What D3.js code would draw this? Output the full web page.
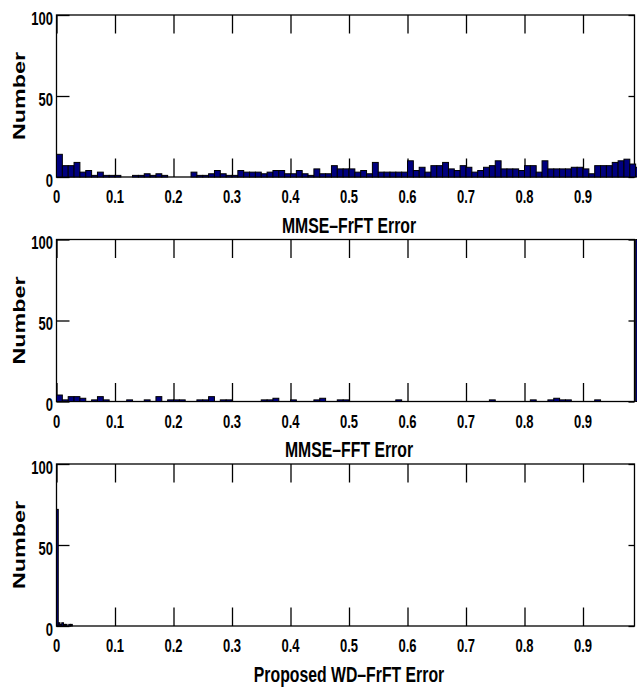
<!DOCTYPE html>
<html lang="en">
<head>
<meta charset="utf-8" />
<title>Error histograms</title>
<script src="https://d3js.org/d3.v7.min.js"></script>
<style>
  body { margin: 0; background: #fff; }
  text { font-family: "Liberation Sans", Arial, sans-serif; font-weight: bold; fill: #000; }
</style>
</head>
<body>
<div id="chart"></div>
<script>
// counts per bin (bins start at 0)
const frftCounts = [
  14, 7, 7, 9, 3, 4, 1, 3, 1, 1,
  1, 0, 0, 1, 1, 2, 1, 2, 1, 0,
  0, 0, 0, 3, 1, 1, 2, 4, 2, 1,
  1, 4, 3, 3, 3, 2, 3, 4, 4, 2,
  2, 4, 2, 1, 5, 2, 2, 7, 5, 5,
  5, 3, 4, 2, 9, 3, 3, 3, 3, 3,
  10, 4, 6, 3, 7, 7, 9, 5, 4, 7,
  6, 3, 4, 6, 7, 10, 5, 5, 5, 4,
  7, 7, 3, 10, 5, 5, 5, 5, 6, 6,
  5, 2, 7, 7, 7, 9, 10, 11, 8, 6
];
const fftCounts = [
  4, 1, 3, 3, 2, 0, 1, 3, 1, 0,
  0, 0, 1, 0, 0, 1, 0, 3, 0, 1,
  1, 1, 0, 0, 1, 1, 3, 0, 1, 1,
  0, 0, 0, 0, 0, 1, 1, 2, 0, 0,
  1, 0, 0, 0, 1, 2, 0, 0, 1, 1,
  0, 0, 0, 0, 0, 0, 0, 0, 1, 0,
  0, 0, 0, 0, 0, 0, 0, 0, 0, 0,
  0, 0, 0, 0, 1, 0, 0, 0, 0, 0,
  0, 1, 0, 0, 1, 2, 1, 1, 0, 0,
  0, 0, 1, 0, 0, 0, 0, 0, 0, 130
];
const wdCounts = [72, 2, 1, 2, 1, 1, 0, 1, 1];

const binWidths = [0.01, 0.01, 0.003];
const panelLabels = ["MMSE\u2013FrFT Error", "MMSE\u2013FFT Error", "Proposed WD\u2013FrFT Error"];
const xTickValues = [0, 0.1, 0.2, 0.3, 0.4, 0.5, 0.6, 0.7, 0.8, 0.9];
const xTickLabels = ["0", "0.1", "0.2", "0.3", "0.4", "0.5", "0.6", "0.7", "0.8", "0.9"];
const yTickValues = [0, 50, 100];
const yLabel = "Number";

// layout
const W = 637, H = 689;
const left = 56.5, top0 = 15, plotH = 162, pitch = 224.5;
const unitW = 585;      // pixels for an error of 1
const xMax = 0.988;     // right edge of the axes box
const stretch = 1.37;   // figure was stretched vertically, text follows

const svg = d3.select("#chart").append("svg")
    .attr("width", W)
    .attr("height", H);

const x = d3.scaleLinear().domain([0, 1]).range([0, unitW]);
const y = d3.scaleLinear().domain([0, 100]).range([plotH, 0]).clamp(true);
const plotW = x(xMax);

const series = [frftCounts, fftCounts, wdCounts];

series.forEach(function (counts, p) {
    const g = svg.append("g")
        .attr("transform", "translate(" + left + "," + (top0 + p * pitch) + ")");

    // frame
    g.append("rect")
        .attr("width", plotW)
        .attr("height", plotH)
        .attr("fill", "none")
        .attr("stroke", "#000")
        .attr("stroke-width", 1.3);

    // inward ticks on all four sides
    const axes = [
        [d3.axisBottom(x).tickValues(xTickValues).tickSize(-18.5), plotH, 0],
        [d3.axisTop(x).tickValues(xTickValues).tickSize(-18.5), 0, 0],
        [d3.axisLeft(y).tickValues(yTickValues).tickSize(-13), 0, 0],
        [d3.axisRight(y).tickValues(yTickValues).tickSize(-6), 0, plotW]
    ];
    axes.forEach(function (a) {
        const ag = g.append("g")
            .attr("transform", "translate(" + a[2] + "," + a[1] + ")")
            .call(a[0].tickFormat(""));
        ag.select(".domain").remove();
        ag.selectAll("line").attr("stroke", "#000").attr("stroke-width", 1.3);
    });

    // bars
    const bw = binWidths[p];
    g.selectAll("rect.bar")
        .data(counts.map(function (c, k) { return { x0: k * bw, x1: (k + 1) * bw, c: c }; })
                    .filter(function (d) { return d.c > 0; }))
        .enter()
        .append("rect")
        .attr("class", "bar")
        .attr("x", function (d) { return x(d.x0); })
        .attr("width", function (d) { return x(d.x1) - x(d.x0); })
        .attr("y", function (d) { return y(d.c); })
        .attr("height", function (d) { return plotH - y(d.c); })
        .attr("fill", "#00007f")
        .attr("stroke", "#000")
        .attr("stroke-width", 1);

    // x tick labels
    g.selectAll("text.xt")
        .data(xTickValues)
        .enter()
        .append("text")
        .attr("class", "xt")
        .attr("transform", function (d) { return "translate(" + x(d) + "," + (plotH + 26) + ") scale(1," + stretch + ")"; })
        .attr("text-anchor", "middle")
        .attr("font-size", 13)
        .text(function (d, i) { return xTickLabels[i]; });

    // y tick labels
    g.selectAll("text.yt")
        .data(yTickValues)
        .enter()
        .append("text")
        .attr("class", "yt")
        .attr("transform", function (d) { return "translate(-3.5," + (y(d) + 9.5) + ") scale(1," + stretch + ")"; })
        .attr("text-anchor", "end")
        .attr("font-size", 13)
        .text(function (d) { return d; });

    // y axis title
    g.append("text")
        .attr("transform", "translate(" + (25 - left) + "," + (plotH / 2) + ") scale(1," + stretch + ") rotate(-90)")
        .attr("text-anchor", "middle")
        .attr("font-size", 17)
        .text(yLabel);

    // x axis title, centred under the full 0..1 range
    g.append("text")
        .attr("transform", "translate(" + (x(1) / 2) + "," + (plotH + 55.5) + ") scale(1," + stretch + ")")
        .attr("text-anchor", "middle")
        .attr("font-size", 15.8)
        .text(panelLabels[p]);
});
</script>
</body>
</html>
